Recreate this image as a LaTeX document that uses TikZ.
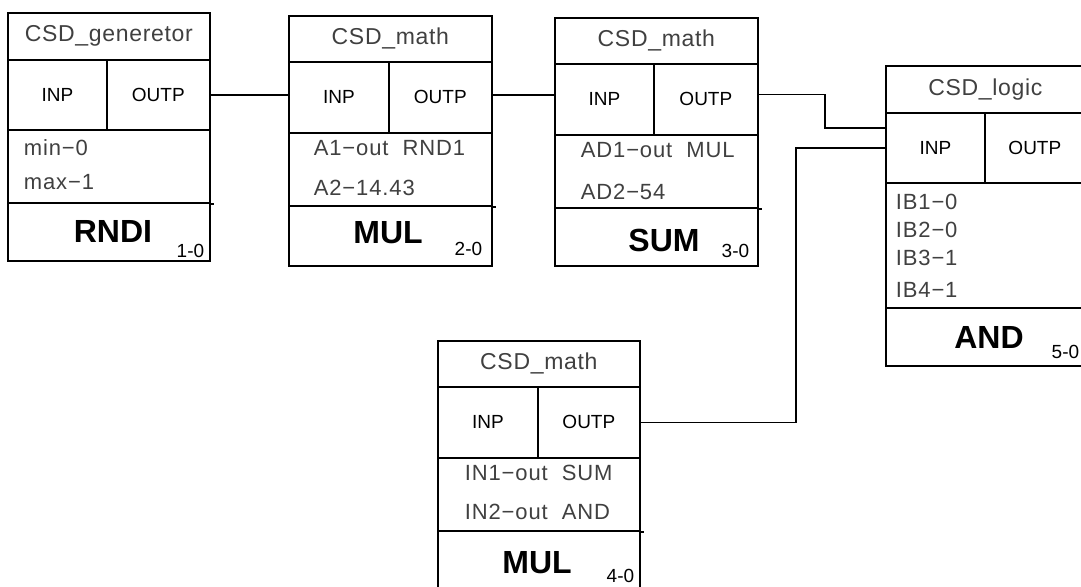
\documentclass[tikz,border=0pt]{standalone}
\usepackage{fontspec}
\setmainfont{Liberation Sans}
\begin{document}
\begin{tikzpicture}[x=1pt,y=-1pt,line width=1.7pt,
    cell/.style={draw,inner sep=0pt,anchor=north west},
    hdr/.style={cell,font=\fontsize{23}{26}\selectfont\addfontfeature{LetterSpace=3},text=black!75},
    port/.style={cell,font=\fontsize{19}{22}\selectfont},
    par/.style={anchor=west,inner sep=0pt,font=\fontsize{22}{24}\selectfont\addfontfeature{LetterSpace=4},text=black!75},
    nm/.style={inner sep=0pt,font=\fontsize{32}{34}\selectfont\bfseries},
    idx/.style={anchor=base east,inner sep=0pt,font=\fontsize{19}{20}\selectfont}]
  \useasboundingbox (0,0) rectangle (1081,586);
  \clip (0,0) rectangle (1081,586);
  % generator
  \node[hdr,minimum width=202,minimum height=47] (rnd-t) at (7,12) {CSD\_generetor};
  \node[port,minimum width=99,minimum height=70] (rnd-i) at (7,59) {INP};
  \node[port,minimum width=103,minimum height=70] (rnd-o) at (106,59) {OUTP};
  \node[cell,minimum width=202,minimum height=73] (rnd-p) at (7,129) {};
  \node[cell,minimum width=202,minimum height=58] (rnd-n) at (7,202) {};
  \node[par] at (23,148) {min−0};
  \node[par] at (23,182) {max−1};
  \node[nm] at (113,231) {RNDI};
  \node[idx] at (205,257) {1-0};
  % multiply
  \node[hdr,minimum width=203,minimum height=46] (mul-t) at (288,15) {CSD\_math};
  \node[port,minimum width=100,minimum height=71] (mul-i) at (288,61) {INP};
  \node[port,minimum width=103,minimum height=71] (mul-o) at (388,61) {OUTP};
  \node[cell,minimum width=203,minimum height=73] (mul-p) at (288,132) {};
  \node[cell,minimum width=203,minimum height=60] (mul-n) at (288,205) {};
  \node[par] at (313,148) {A1−out~~RND1};
  \node[par] at (313,188) {A2−14.43};
  \node[nm] at (388,233) {MUL};
  \node[idx] at (483,255) {2-0};
  % sum
  \node[hdr,minimum width=203,minimum height=46] (sum-t) at (554,17) {CSD\_math};
  \node[port,minimum width=99,minimum height=71] (sum-i) at (554,63) {INP};
  \node[port,minimum width=104,minimum height=71] (sum-o) at (653,63) {OUTP};
  \node[cell,minimum width=203,minimum height=73] (sum-p) at (554,134) {};
  \node[cell,minimum width=203,minimum height=58] (sum-n) at (554,207) {};
  \node[par] at (580,150) {AD1−out~~MUL};
  \node[par] at (580,192) {AD2−54};
  \node[nm] at (664,240) {SUM};
  \node[idx] at (750,257) {3-0};
  % second multiply
  \node[hdr,minimum width=202,minimum height=46] (mulb-t) at (437,340) {CSD\_math};
  \node[port,minimum width=100,minimum height=71] (mulb-i) at (437,386) {INP};
  \node[port,minimum width=102,minimum height=71] (mulb-o) at (537,386) {OUTP};
  \node[cell,minimum width=202,minimum height=73] (mulb-p) at (437,457) {};
  \node[cell,minimum width=202,minimum height=60] (mulb-n) at (437,530) {};
  \node[par] at (464,473) {IN1−out~~SUM};
  \node[par] at (464,512) {IN2−out~~AND};
  \node[nm] at (537,563) {MUL};
  \node[idx] at (635,582) {4-0};
  % logic
  \node[hdr,minimum width=199,minimum height=47] (and-t) at (885,65) {CSD\_logic};
  \node[port,minimum width=99,minimum height=70] (and-i) at (885,112) {INP};
  \node[port,minimum width=100,minimum height=70] (and-o) at (984,112) {OUTP};
  \node[cell,minimum width=199,minimum height=125] (and-p) at (885,182) {};
  \node[cell,minimum width=199,minimum height=58] (and-n) at (885,307) {};
  \node[par] at (895,202) {IB1−0};
  \node[par] at (895,230) {IB2−0};
  \node[par] at (895,258) {IB3−1};
  \node[par] at (895,290) {IB4−1};
  \node[nm] at (989,337) {AND};
  \node[idx] at (1080,358) {5-0};
  \foreach \b in {rnd,mul,sum,mulb}
    \draw (\b-p.south east) -- ++(3,0);
  % links
  \coordinate (and-in1) at (885,128);
  \coordinate (and-in2) at (885,148);
  \draw (rnd-o.east) -- (rnd-o.east -| mul-i.west);
  \draw ([yshift=2.5]mul-o.east) -- ([yshift=2.5]mul-o.east -| sum-i.west);
  \draw ([yshift=5]sum-o.east) -- ++(66,0) |- (and-in1);
  \draw (mulb-o.east) -- ++(155,0) |- (and-in2);
\end{tikzpicture}
\end{document}
